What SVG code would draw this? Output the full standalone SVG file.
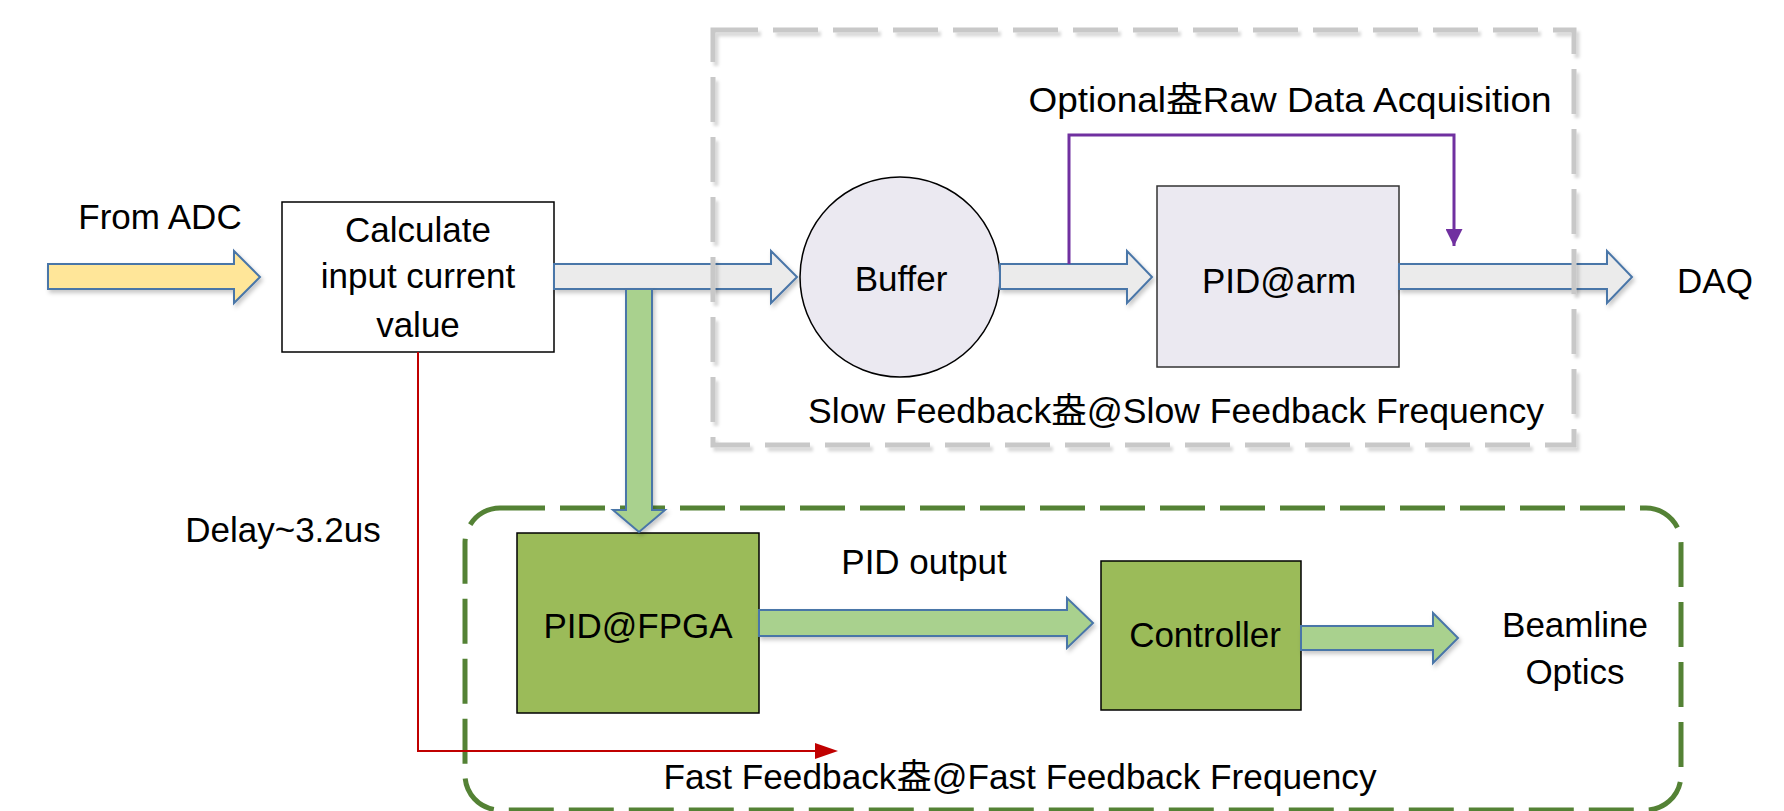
<svg xmlns="http://www.w3.org/2000/svg" width="1784" height="811" viewBox="0 0 1784 811">
<defs>
<style>
text{font-family:"Liberation Sans","Noto Sans CJK SC",sans-serif;font-size:35px;fill:#000;text-anchor:middle}
.arrow{stroke:#4A76A8;stroke-width:2;filter:url(#sh)}
.gray{fill:#EBEBEB}
.yellow{fill:#FFE699}
.green{fill:#A9D18E}
.box{stroke:#000;stroke-width:1.5}
</style>
<filter id="sh" x="-10%" y="-20%" width="130%" height="160%">
<feDropShadow dx="2" dy="3" stdDeviation="2" flood-color="#000" flood-opacity="0.22"/>
</filter>
<filter id="sh2" x="-5%" y="-5%" width="110%" height="115%">
<feDropShadow dx="3" dy="4" stdDeviation="1.5" flood-color="#000" flood-opacity="0.15"/>
</filter>
<marker id="purpleHead" viewBox="0 0 10 10" refX="5" refY="10" markerWidth="17" markerHeight="17" markerUnits="userSpaceOnUse" orient="0" preserveAspectRatio="none">
<path d="M0,0 L10,0 L5,10 z" fill="#7030A0"/>
</marker>
</defs>
<rect width="1784" height="811" fill="#fff"/>

<g id="fast-group">
<rect x="465" y="508" width="1216" height="302" rx="35" ry="35" fill="none" stroke="#548235" stroke-width="5" stroke-dasharray="45 15"/>
<text x="1020" y="789" textLength="713" lengthAdjust="spacingAndGlyphs">Fast Feedback盎@Fast Feedback Frequency</text>
</g>

<g id="nodes">
<g id="calc">
<rect class="box" x="282" y="202" width="272" height="150" fill="#fff"/>
<text x="418" y="242">Calculate</text>
<text x="418" y="288">input current</text>
<text x="418" y="337">value</text>
</g>
<g id="buffer">
<circle cx="900" cy="277" r="100" fill="#EBE9F1" stroke="#000" stroke-width="1.5"/>
<text x="901" y="291">Buffer</text>
</g>
<g id="pid-arm">
<rect x="1157" y="186" width="242" height="181" fill="#EBE9F1" stroke="#333" stroke-width="1.5"/>
<text x="1279" y="293">PID@arm</text>
</g>
<g id="pid-fpga">
<rect class="box" x="517" y="533" width="242" height="180" fill="#9BBB59"/>
<text x="638" y="638">PID@FPGA</text>
</g>
<g id="controller">
<rect class="box" x="1101" y="561" width="200" height="149" fill="#9BBB59"/>
<text x="1205" y="647">Controller</text>
</g>
</g>

<g id="connectors">
<polygon class="arrow yellow" points="48,264 234,264 234,251 260,277 234,303 234,289 48,289"/>
<polygon class="arrow gray" points="554,264 771,264 771,251 797,277 771,303 771,289 554,289"/>
<polygon class="arrow green" points="626,289 652,289 652,510 665,510 639,532 613,510 626,510"/>
<polygon class="arrow gray" points="1000,264 1127,264 1127,251 1152,277 1127,303 1127,289 1000,289"/>
<polygon class="arrow gray" points="1399,264 1607,264 1607,251 1632,277 1607,303 1607,289 1399,289"/>
<polygon class="arrow green" points="759,610 1067,610 1067,598 1093,623 1067,648 1067,636 759,636"/>
<polygon class="arrow green" points="1301,626 1433,626 1433,613 1458,638 1433,663 1433,650 1301,650"/>
<polyline points="1069,264 1069,135 1454,135 1454,246" fill="none" stroke="#7030A0" stroke-width="3" marker-end="url(#purpleHead)"/>
<polyline points="418,352 418,751 827,751" fill="none" stroke="#C00000" stroke-width="2"/>
<path d="M815,743 L838,751 L815,759 z" fill="#C00000"/>
</g>

<g id="slow-group">
<rect x="713" y="30" width="861" height="415" fill="none" stroke="#C8C8C8" stroke-width="5" stroke-dasharray="45 15" filter="url(#sh2)"/>
<text x="1290" y="112" textLength="523" lengthAdjust="spacingAndGlyphs">Optional盎Raw Data Acquisition</text>
<text x="1176" y="423" textLength="736" lengthAdjust="spacingAndGlyphs">Slow Feedback盎@Slow Feedback Frequency</text>
</g>

<g id="labels">
<text x="160" y="229">From ADC</text>
<text x="1715" y="293">DAQ</text>
<text x="283" y="542">Delay~3.2us</text>
<text x="924" y="574">PID output</text>
<text x="1575" y="637">Beamline</text>
<text x="1575" y="684">Optics</text>
</g>
</svg>
